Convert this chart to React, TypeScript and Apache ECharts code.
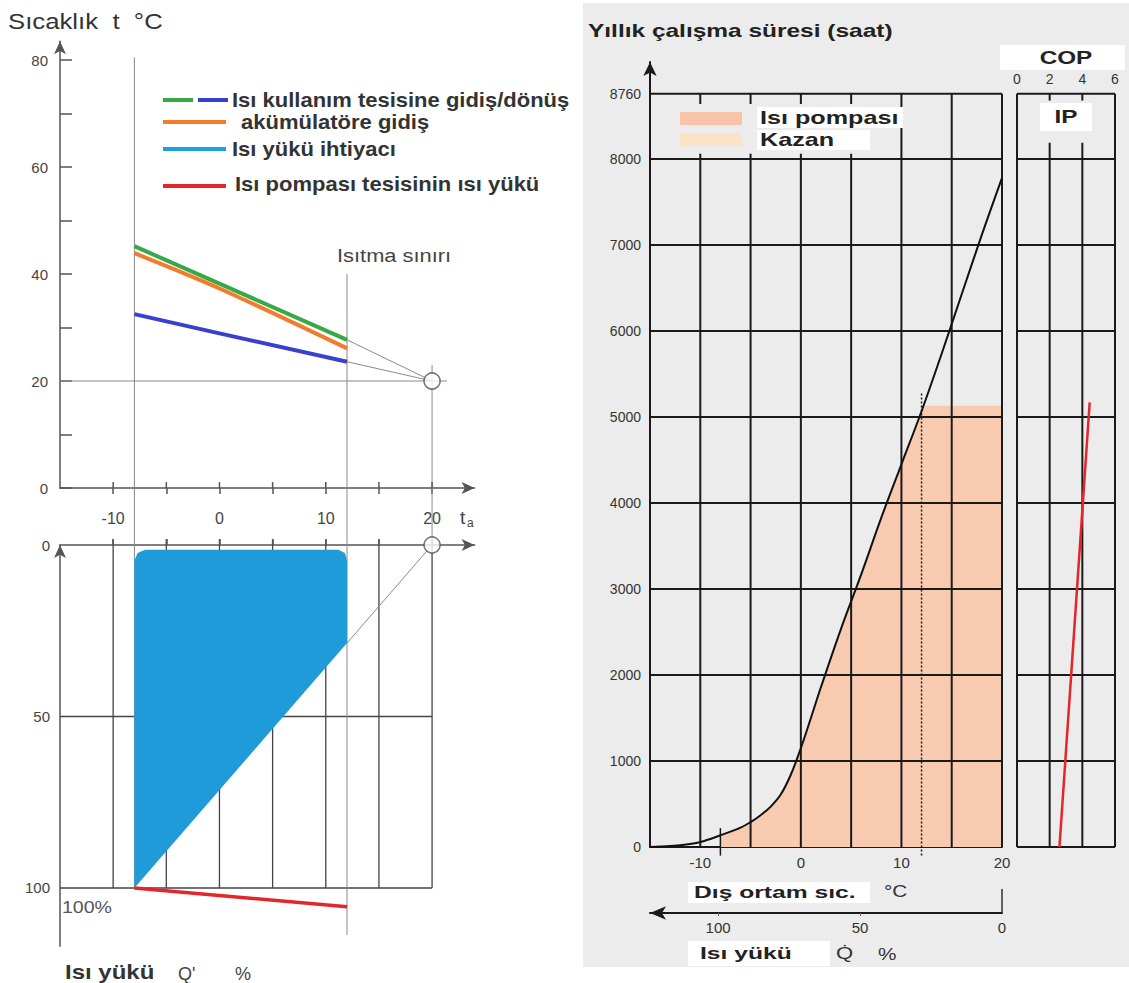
import React, { useEffect, useRef } from "react";
import * as echarts from "echarts";

// ================= Left top: flow temperatures =================
const taTicks = [-10, -5, 0, 5, 10, 15, 20];
const taLabels = [-10, 0, 10, 20];
const tempTicks = [0, 10, 20, 30, 40, 50, 60, 70, 80];
const tempLabels = [0, 20, 40, 60, 80];
const supplyUse = [[-8, 45.2], [12, 27.7]]; // green
const returnUse = [[-8, 32.5], [0, 28.9], [12, 23.6]]; // blue
const supplyAccu = [[-8, 43.9], [0, 37.3], [12, 26.1]]; // orange
const designPoint = [[20, 20]];
const designTemp = -8;
const heatingLimit = 12;
const roomTemp = 20;

// ================= Left bottom: heat load =================
const loadLabels = [0, 50, 100];
const loadGridX = [-10, -5, 0, 5, 10, 15, 20];
const loadGridY = [50, 100];
const loadCloud = [
  [-8, 100], [-8, 4.5], [-7.7, 2.3], [-7, 1.4], [11.2, 1.4], [11.8, 2.3], [12, 4.5], [12, 28.6],
];
const hpLoad = [[-8, 100], [12, 105.5]];
const loadOrigin = [[20, 0]];

// ================= Right: annual operating hours =================
const hourLabels = [0, 1000, 2000, 3000, 4000, 5000, 6000, 7000, 8000, 8760];
const hourLines = [1000, 2000, 3000, 4000, 5000, 6000, 7000, 8000];
const hourTop = 8760;
const outTempLabels = [-10, 0, 10, 20];
const outGridFull = [10, 15, 20];
const outGridShort = [-10, -5, 0, 5];
const loadPctLabels = [0, 50, 100];
const loadPctTicks = [50, 100];
const hoursCurve = [
  [-15, 0], [-14, 5], [-12, 20], [-10, 58], [-8, 136], [-6, 225], [-5, 290], [-4, 370], [-3, 470],
  [-2, 610], [-1, 840], [0, 1150], [1, 1500], [2, 1860], [4, 2540], [6, 3170], [8, 3830], [10, 4450],
  [12, 5067], [14, 5735], [16, 6430], [18, 7120], [20, 7780],
];
const pumpStart = -8;
const pumpLimit = 12;
const pumpTop = [[12, 5130], [20, 5130]];
const copLabels = [0, 2, 4, 6];
const copGrid = [2, 4];
const copLine = [[2.6, 0], [4.45, 5170]];

const FONT = "'Liberation Sans', Arial, sans-serif";

function seg(xi: number, yi: number, data: number[][], color: string, width: number, z = 2, dash?: number[]) {
  return {
    type: "custom",
    xAxisIndex: xi,
    yAxisIndex: yi,
    data,
    z,
    silent: true,
    clip: false,
    encode: { x: [0, 2], y: [1, 3] },
    renderItem: (_p: any, api: any) => {
      const a = api.coord([api.value(0), api.value(1)]);
      const b = api.coord([api.value(2), api.value(3)]);
      const style: any = { stroke: color, lineWidth: width };
      if (dash) style.lineDash = dash;
      return { type: "line", shape: { x1: a[0], y1: a[1], x2: b[0], y2: b[1] }, style };
    },
  };
}

function txt(x: number, y: number, text: string, font: string, fill = "#333", sx = 1, align = "left", z = 20) {
  return { type: "text", x, y, z, scaleX: sx, silent: true, style: { text, font, fill, align, verticalAlign: "middle" } };
}
function rect(x: number, y: number, w: number, h: number, fill: string, z = 15) {
  return { type: "rect", z, silent: true, shape: { x, y, width: w, height: h }, style: { fill } };
}
function gline(x1: number, y1: number, x2: number, y2: number, stroke: string, lineWidth: number, z = 20) {
  return { type: "line", z, silent: true, shape: { x1, y1, x2, y2 }, style: { stroke, lineWidth } };
}

export default function App() {
  const ref = useRef<HTMLDivElement>(null);
  useEffect(() => {
    if (!ref.current) return;
    const chart = echarts.init(ref.current, null, { renderer: "svg" });

    const gray = "#555";
    const refGray = "#8a8a8a";
    const dark = "#1a1a1a";
    const plain = (v: number) => String(v);

    const aRef = [
      [designTemp, 80.5, designTemp, -10.7],
      [heatingLimit, 40, heatingLimit, -10.7],
      [roomTemp, 23, roomTemp, -10.7],
      [-15, 20, 21.4, 20],
      [supplyUse[1][0], supplyUse[1][1], roomTemp, 20],
      [returnUse[2][0], returnUse[2][1], roomTemp, 20],
    ];
    const aTicksUp = taTicks.map((x) => [x, 0, x, 1.1]);
    const bGrid = [
      ...loadGridX.map((x) => [x, 0, x, 100]),
      ...loadGridY.map((y) => [-15, y, 20, y]),
    ];
    const bRef = [
      [designTemp, 0, designTemp, 100],
      [heatingLimit, 0, heatingLimit, 113.7],
      [heatingLimit, loadCloud[7][1], roomTemp, 0],
    ];
    const bTicksUp = loadGridX.map((x) => [x, 0, x, -1.7]);
    const rGrid = [
      ...[...hourLines, hourTop].map((h) => [-15, h, 20, h]),
      ...outGridFull.map((x) => [x, 0, x, hourTop]),
      ...outGridShort.map((x) => [x, 0, x, 8060]),
      ...outGridShort.map((x) => [x, 8640, x, hourTop]),
    ];
    const cGrid = [
      ...[0, ...hourLines, hourTop].map((h) => [0, h, 6, h]),
      [0, 0, 0, hourTop],
      [6, 0, 6, hourTop],
      ...copGrid.map((x) => [x, 0, x, 8190]),
      ...copGrid.map((x) => [x, 8680, x, hourTop]),
    ];
    const rMarks = [[pumpLimit, -100, pumpLimit, 5290]];
    const rTicks = [[pumpStart, -100, pumpStart, 220]];

    const pumpFill = hoursCurve.filter((p) => p[0] >= pumpStart && p[0] <= pumpLimit);

    const option: any = {
      animation: false,
      backgroundColor: "#ffffff",
      textStyle: { fontFamily: FONT },
      grid: [
        { left: 60, top: 41.3, width: 414.6, height: 446.7, outerBoundsMode: "none" },
        { left: 60, top: 545, width: 414.6, height: 401.3, outerBoundsMode: "none" },
        { left: 650, top: 62, width: 352, height: 785, outerBoundsMode: "none" },
        { left: 1017, top: 62, width: 98, height: 785, outerBoundsMode: "none" },
      ],
      xAxis: [
        {
          gridIndex: 0, type: "value", min: -15, max: 24,
          axisLine: { show: true, onZero: false, symbol: ["none", "arrow"], symbolSize: [9, 13], lineStyle: { color: gray, width: 1.5 } },
          axisTick: { show: true, customValues: taTicks, length: 6, lineStyle: { color: gray, width: 1.5 } },
          axisLabel: { customValues: taLabels, margin: 22, color: "#444", fontSize: 16, formatter: plain },
          splitLine: { show: false },
        },
        {
          gridIndex: 1, type: "value", min: -15, max: 24, position: "top",
          axisLine: { show: true, onZero: false, symbol: ["none", "arrow"], symbolSize: [9, 13], lineStyle: { color: gray, width: 1.5 } },
          axisTick: { show: true, customValues: loadGridX, length: 6, lineStyle: { color: gray, width: 1.5 } },
          axisLabel: { show: false },
          splitLine: { show: false },
        },
        {
          gridIndex: 2, type: "value", min: -15, max: 20,
          axisLine: { show: true, onZero: false, lineStyle: { color: dark, width: 2 } },
          axisTick: { show: false },
          axisLabel: { customValues: outTempLabels, margin: 8, color: "#333", fontSize: 15, formatter: plain },
          splitLine: { show: false },
        },
        {
          gridIndex: 2, type: "value", min: 0, max: 124, inverse: true, position: "bottom", offset: 66,
          axisLine: { show: true, onZero: false, symbol: ["arrow", "none"], symbolSize: [10, 16], lineStyle: { color: dark, width: 2 } },
          axisTick: { show: true, customValues: loadPctTicks, length: 3, lineStyle: { color: "#666" } },
          axisLabel: { customValues: loadPctLabels, margin: 7, color: "#333", fontSize: 15, formatter: plain },
          splitLine: { show: false },
        },
        {
          gridIndex: 3, type: "value", min: 0, max: 6, position: "top", offset: -31.6,
          axisLine: { show: false },
          axisTick: { show: false },
          axisLabel: { customValues: copLabels, margin: 8, color: "#333", fontSize: 14, formatter: plain },
          splitLine: { show: false },
        },
      ],
      yAxis: [
        {
          gridIndex: 0, type: "value", min: 0, max: 83.5,
          axisLine: { show: true, onZero: false, symbol: ["none", "arrow"], symbolSize: [9, 13], lineStyle: { color: gray, width: 1.5 } },
          axisTick: { show: true, inside: true, customValues: tempTicks, length: 12, lineStyle: { color: gray, width: 1.5 } },
          axisLabel: { customValues: tempLabels, margin: 12, color: "#444", fontSize: 15, formatter: plain },
          splitLine: { show: false },
        },
        {
          gridIndex: 1, type: "value", min: 0, max: 117, inverse: true,
          axisLine: { show: true, onZero: false, symbol: ["none", "arrow"], symbolSize: [9, 13], lineStyle: { color: gray, width: 1.5 } },
          axisTick: { show: false },
          axisLabel: { customValues: loadLabels, margin: 10, color: "#444", fontSize: 15, formatter: plain },
          splitLine: { show: false },
        },
        {
          gridIndex: 2, type: "value", min: 0, max: 9128,
          axisLine: { show: true, onZero: false, symbol: ["none", "arrow"], symbolSize: [10, 14], lineStyle: { color: dark, width: 2 } },
          axisTick: { show: false },
          axisLabel: { customValues: hourLabels, margin: 9, color: "#333", fontSize: 14, formatter: plain },
          splitLine: { show: false },
        },
        { gridIndex: 3, type: "value", min: 0, max: 9128, show: false },
      ],
      series: [
        // ---- grid A
        seg(0, 0, aRef, refGray, 1, 2),
        seg(0, 0, aTicksUp, gray, 1.5, 2),
        { type: "line", xAxisIndex: 0, yAxisIndex: 0, data: returnUse, showSymbol: false, z: 4, lineStyle: { color: "#3a3fd0", width: 4 } },
        { type: "line", xAxisIndex: 0, yAxisIndex: 0, data: supplyUse, showSymbol: false, z: 4, lineStyle: { color: "#36a845", width: 4 } },
        { type: "line", xAxisIndex: 0, yAxisIndex: 0, data: supplyAccu, smooth: 0.3, showSymbol: false, z: 5, lineStyle: { color: "#f47b2a", width: 4 } },
        { type: "scatter", xAxisIndex: 0, yAxisIndex: 0, data: designPoint, symbol: "circle", symbolSize: 16, z: 6, itemStyle: { color: "#fff", borderColor: "#555", borderWidth: 1.6 } },
        // ---- grid B
        seg(1, 1, bGrid, "#444", 1.3, 2),
        seg(1, 1, bRef, refGray, 1, 2),
        seg(1, 1, bTicksUp, gray, 1.5, 2),
        {
          type: "custom", xAxisIndex: 1, yAxisIndex: 1, data: loadCloud, z: 3, silent: true,
          encode: { x: 0, y: 1 },
          renderItem: (params: any, api: any) => {
            if (params.dataIndex !== 0) return null;
            const pts = loadCloud.map((p) => api.coord(p));
            return { type: "polygon", shape: { points: pts }, style: { fill: "#1f9bd9" } };
          },
        },
        { type: "line", xAxisIndex: 1, yAxisIndex: 1, data: hpLoad, showSymbol: false, z: 5, clip: false, lineStyle: { color: "#e3262a", width: 3.5 } },
        { type: "scatter", xAxisIndex: 1, yAxisIndex: 1, data: loadOrigin, symbol: "circle", symbolSize: 16, z: 6, clip: false, itemStyle: { color: "#fff", borderColor: "#555", borderWidth: 1.6 } },
        // ---- grid R
        { type: "line", xAxisIndex: 2, yAxisIndex: 2, data: pumpFill, smooth: 0.35, showSymbol: false, z: 1, lineStyle: { width: 0 }, areaStyle: { color: "#f8cab0", opacity: 1 } },
        { type: "line", xAxisIndex: 2, yAxisIndex: 2, data: pumpTop, showSymbol: false, z: 1, lineStyle: { width: 0 }, areaStyle: { color: "#f8cab0", opacity: 1 } },
        seg(2, 2, rGrid, dark, 2, 2),
        seg(2, 2, rMarks, dark, 1.5, 3, [2, 2]),
        seg(2, 2, rTicks, dark, 1.5, 3),
        { type: "line", xAxisIndex: 2, yAxisIndex: 2, data: hoursCurve, smooth: 0.35, showSymbol: false, z: 4, lineStyle: { color: "#111", width: 2 } },
        // ---- grid COP
        seg(4, 3, cGrid, dark, 2, 2),
        { type: "line", xAxisIndex: 4, yAxisIndex: 3, data: copLine, showSymbol: false, z: 4, lineStyle: { color: "#e3262a", width: 2.5 } },
      ],
      graphic: [
        rect(583, 3, 546, 964, "#ececec", -1),
        // ---- left texts
        txt(8, 21, "Sıcaklık  t  °C", "22px " + FONT, "#333", 1.17),
        gline(163, 100, 193, 100, "#36a845", 4),
        gline(198, 100, 228, 100, "#3a3fd0", 4),
        txt(232, 100, "Isı kullanım tesisine gidiş/dönüş", "bold 20px " + FONT, "#333", 1.1),
        gline(163, 122, 226, 122, "#f47b2a", 4),
        txt(241, 122, "akümülatöre gidiş", "bold 20px " + FONT, "#333", 1.1),
        gline(163, 149, 226, 149, "#1f9fe0", 4),
        txt(232, 149, "Isı yükü ihtiyacı", "bold 20px " + FONT, "#333", 1.1),
        gline(163, 186, 226, 186, "#e3262a", 4),
        txt(235, 184, "Isı pompası tesisinin ısı yükü", "bold 20px " + FONT, "#333", 1.1),
        txt(337, 255, "Isıtma sınırı", "19px " + FONT, "#444", 1.15),
        txt(460, 517, "t", "19px " + FONT, "#444"),
        txt(467, 523, "a", "12px " + FONT, "#444"),
        txt(62, 907, "100%", "17px " + FONT, "#555", 1.15),
        txt(65, 972, "Isı yükü", "bold 20px " + FONT, "#333", 1.2),
        txt(178, 974, "Q'", "18px " + FONT, "#444"),
        txt(235, 974, "%", "18px " + FONT, "#444"),
        // ---- right texts
        txt(588, 31, "Yıllık çalışma süresi (saat)", "bold 18px " + FONT, "#222", 1.36),
        rect(680, 112, 62, 13, "#f9c3a9", 16),
        rect(680, 133, 62, 13, "#fde3c5", 16),
        rect(757, 107, 146, 21, "#ffffff", 15),
        rect(757, 130, 113, 20, "#ffffff", 15),
        txt(760, 118, "Isı pompası", "bold 18px " + FONT, "#222", 1.4),
        txt(760, 140, "Kazan", "bold 18px " + FONT, "#222", 1.4),
        rect(1000, 45, 125, 25, "#ffffff", 15),
        txt(1066, 58, "COP", "bold 18px " + FONT, "#222", 1.35, "center"),
        rect(1040, 103, 52, 28, "#ffffff", 15),
        txt(1066, 117, "IP", "bold 18px " + FONT, "#222", 1.35, "center"),
        rect(688, 882, 182, 21, "#ffffff", 15),
        txt(694, 892, "Dış ortam sıc.", "bold 17px " + FONT, "#222", 1.45),
        txt(884, 891, "°C", "16px " + FONT, "#333", 1.3),
        gline(1002, 889, 1002, 913, "#333", 1.5),
        rect(688, 941, 142, 25, "#ffffff", 15),
        txt(700, 953, "Isı yükü", "bold 17px " + FONT, "#222", 1.45),
        txt(836, 953, "Q̇", "17px " + FONT, "#333", 1.3),
        txt(878, 954, "%", "16px " + FONT, "#333", 1.3),
      ],
    };

    chart.setOption(option);
    return () => chart.dispose();
  }, []);

  return (
    <div
      ref={ref}
      style={{ position: "absolute", left: 0, top: 0, width: 1129, height: 983, background: "#fff" }}
    />
  );
}
